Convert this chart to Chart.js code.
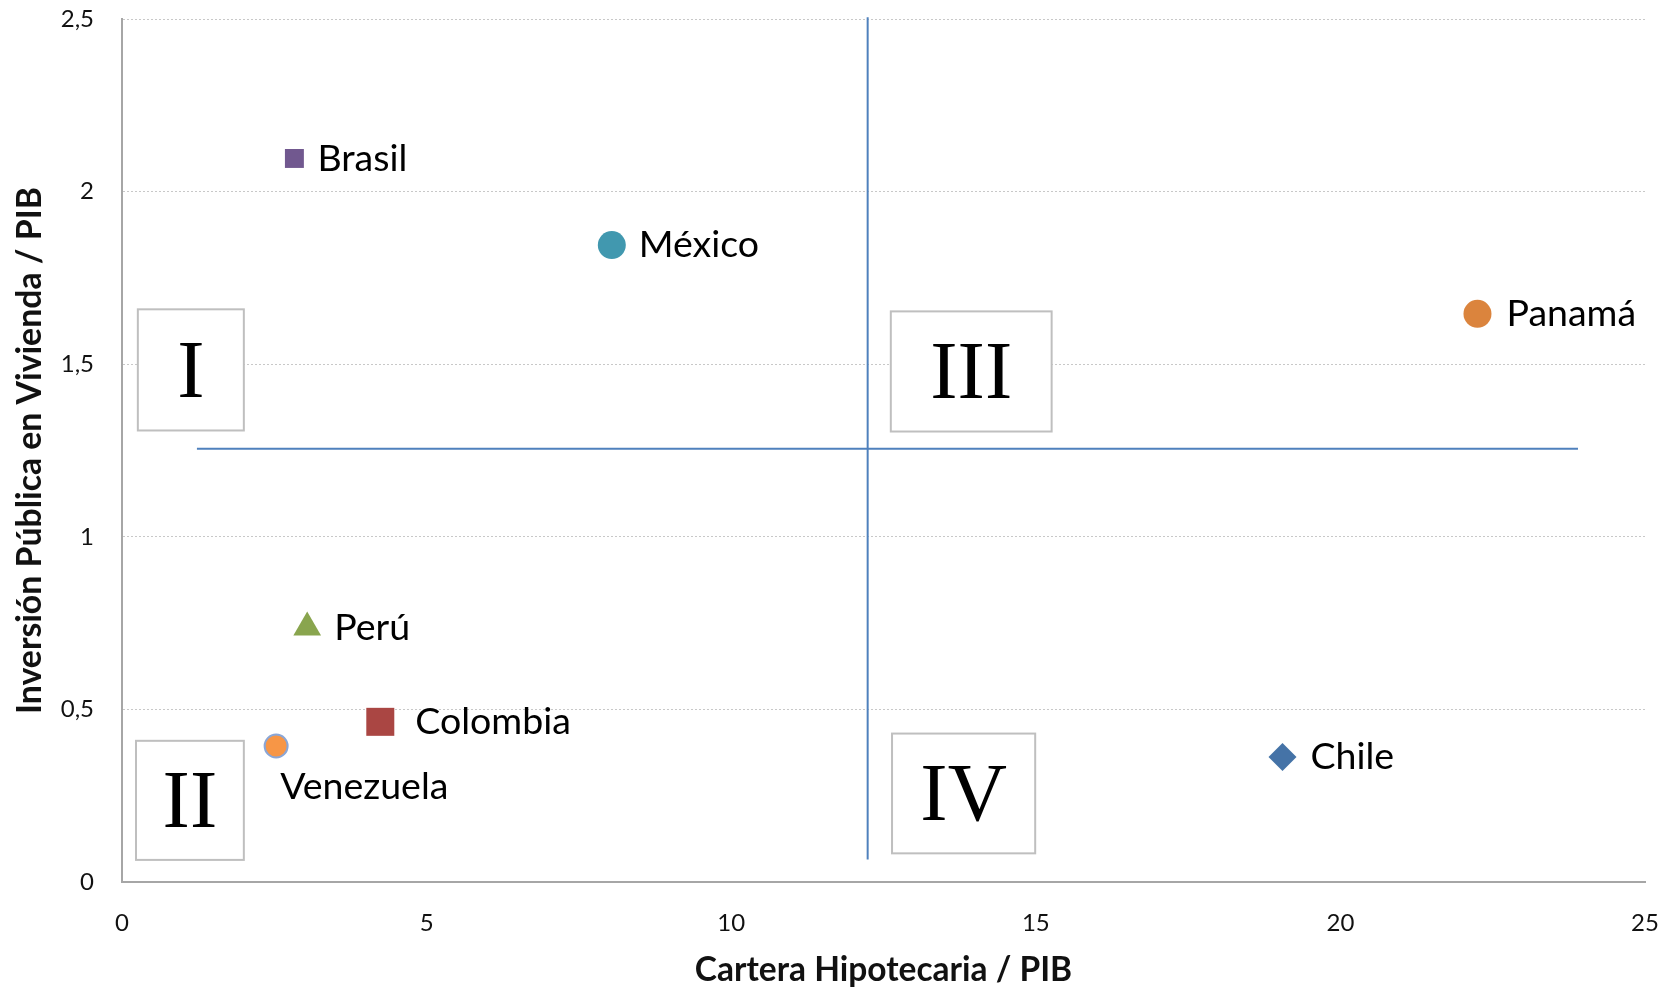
<!DOCTYPE html>
<html>
<head>
<meta charset="utf-8">
<script src="https://cdn.jsdelivr.net/npm/chart.js@4"></script>
<style>
  html, body { margin: 0; padding: 0; background: #fff; }
  #wrap { width: 1677px; height: 991px; }
</style>
</head>
<body>
<div id="wrap"><canvas id="c" width="1677" height="991"></canvas></div>
<script>
// ---- data ----
const countries = ['Chile', 'Panamá', 'México', 'Brasil', 'Perú', 'Colombia', 'Venezuela'];
const carteraHipotecaria = [19.05, 22.25, 8.04, 2.83, 3.04, 4.24, 2.53];
const inversionPublica = [0.362, 1.646, 1.845, 2.096, 0.737, 0.464, 0.394];

const xTicks = [0, 5, 10, 15, 20, 25];
const yTicks = [0, 0.5, 1, 1.5, 2, 2.5];

// quadrant divider lines (data units)
const hDividerX = [1.23, 23.9];
const hDividerY = 1.255;
const vDividerX = 12.24;
const vDividerY = [0.065, 2.505];

// quadrant label boxes (data units)
const quadrantNames = ['I', 'II', 'III', 'IV'];
const quadrantX0 = [0.26, 0.23, 12.62, 12.64];
const quadrantX1 = [2.0, 2.0, 15.26, 14.99];
const quadrantYTop = [1.659, 0.409, 1.653, 0.430];
const quadrantYBottom = [1.308, 0.064, 1.305, 0.083];

// ---- styles ----
const markerStyle = {
  'Chile':     { shape: 'rectRot',  color: '#4573A7', r: 14 },
  'Panamá':    { shape: 'circle',   color: '#DB843D', r: 14 },
  'México':    { shape: 'circle',   color: '#4198AF', r: 14 },
  'Brasil':    { shape: 'rect',     color: '#71588F', r: 13.4 },
  'Perú':      { shape: 'triangle', color: '#89A54E', r: 16 },
  'Colombia':  { shape: 'rect',     color: '#AA4643', r: 19.8 },
  'Venezuela': { shape: 'circle',   color: '#F79646', r: 11.5, border: '#8AA6D6' }
};
const labelPlacement = {
  'Chile': [28, 0], 'Panamá': [29, 0], 'México': [27, 0], 'Brasil': [23, 0],
  'Perú': [27, 0], 'Colombia': [35, 0], 'Venezuela': [4, 41]
};

const points = countries.map((c, i) => ({ x: carteraHipotecaria[i], y: inversionPublica[i] }));

const labelPlugin = {
  id: 'pointLabels',
  afterDatasetsDraw(chart) {
    const ctx = chart.ctx;
    const meta = chart.getDatasetMeta(0);
    ctx.save();
    ctx.font = '37.5px Lato';
    ctx.fillStyle = '#000';
    ctx.textBaseline = 'middle';
    ctx.textAlign = 'left';
    meta.data.forEach((el, i) => {
      const name = countries[i];
      const off = labelPlacement[name];
      ctx.fillText(name, el.x + off[0], el.y + off[1]);
    });
    ctx.restore();
  }
};

const quadrantPlugin = {
  id: 'quadrants',
  afterDraw(chart) {
    const ctx = chart.ctx;
    const xs = chart.scales.x, ys = chart.scales.y;
    ctx.save();
    quadrantNames.forEach((q, i) => {
      const l = xs.getPixelForValue(quadrantX0[i]);
      const r = xs.getPixelForValue(quadrantX1[i]);
      const t = ys.getPixelForValue(quadrantYTop[i]);
      const b = ys.getPixelForValue(quadrantYBottom[i]);
      ctx.fillStyle = '#fff';
      ctx.fillRect(l, t, r - l, b - t);
      ctx.strokeStyle = '#BFBFBF';
      ctx.lineWidth = 2;
      ctx.strokeRect(l, t, r - l, b - t);
      ctx.fillStyle = '#000';
      ctx.font = '82px "Liberation Serif"';
      ctx.textAlign = 'center';
      ctx.textBaseline = 'alphabetic';
      const m = ctx.measureText(q);
      const capH = m.actualBoundingBoxAscent;
      ctx.fillText(q, (l + r) / 2, (t + b) / 2 + capH / 2);
    });
    ctx.restore();
  }
};

const ctx = document.getElementById('c').getContext('2d');
new Chart(ctx, {
  type: 'scatter',
  data: {
    datasets: [
      {
        label: 'Países',
        data: points,
        pointStyle: countries.map(c => markerStyle[c].shape),
        pointRadius: countries.map(c => markerStyle[c].r),
        pointHoverRadius: countries.map(c => markerStyle[c].r),
        backgroundColor: countries.map(c => markerStyle[c].color),
        borderColor: countries.map(c => markerStyle[c].border || markerStyle[c].color),
        borderWidth: countries.map(c => markerStyle[c].border ? 2 : 0),
        order: 0
      },
      {
        type: 'line',
        label: 'h',
        data: hDividerX.map(x => ({ x: x, y: hDividerY })),
        borderColor: '#4F81BD',
        borderWidth: 2,
        pointRadius: 0,
        pointHoverRadius: 0,
        fill: false,
        clip: false,
        order: 1
      },
      {
        type: 'line',
        label: 'v',
        data: vDividerY.map(y => ({ x: vDividerX, y: y })),
        borderColor: '#4F81BD',
        borderWidth: 2,
        pointRadius: 0,
        pointHoverRadius: 0,
        fill: false,
        clip: false,
        order: 1
      }
    ]
  },
  options: {
    responsive: false,
    animation: false,
    events: [],
    layout: { autoPadding: false, padding: { top: 19, right: 32, left: 0, bottom: 0 } },
    plugins: { legend: { display: false }, tooltip: { enabled: false } },
    scales: {
      x: {
        type: 'linear',
        min: 0, max: 25,
        afterBuildTicks: s => { s.ticks = xTicks.map(v => ({ value: v })); },
        afterFit: s => { s.height = 109; },
        grid: { display: true, drawOnChartArea: false, drawTicks: true, tickLength: 27, color: 'rgba(0,0,0,0)', tickColor: 'rgba(0,0,0,0)' },
        border: { display: true, color: '#A6A6A6', width: 2 },
        ticks: {
          padding: 0,
          color: '#111',
          font: { family: 'Lato', size: 24 },
          maxRotation: 0,
          callback: v => String(v)
        },
        title: {
          display: true,
          text: 'Cartera Hipotecaria / PIB',
          color: '#111',
          font: { family: 'Lato', size: 33.5, weight: 'bold' },
          padding: { top: 0, bottom: 1 }
        }
      },
      y: {
        type: 'linear',
        min: 0, max: 2.5,
        afterBuildTicks: s => { s.ticks = yTicks.map(v => ({ value: v })); },
        afterFit: s => { s.width = 122; },
        grid: { display: true, drawTicks: true, tickLength: 28, tickColor: 'rgba(0,0,0,0)', color: '#C8C8C8', lineWidth: 1 },
        border: { display: true, color: '#A6A6A6', width: 2, dash: [2, 2], dashOffset: 0 },
        ticks: {
          padding: 0,
          color: '#111',
          font: { family: 'Lato', size: 24 },
          callback: v => String(v).replace('.', ',')
        },
        title: {
          display: true,
          text: 'Inversión Pública en Vivienda / PIB',
          color: '#111',
          font: { family: 'Lato', size: 33.8, weight: 'bold' },
          padding: { top: 10, bottom: 0 }
        }
      }
    }
  },
  plugins: [labelPlugin, quadrantPlugin]
});
</script>
</body>
</html>
